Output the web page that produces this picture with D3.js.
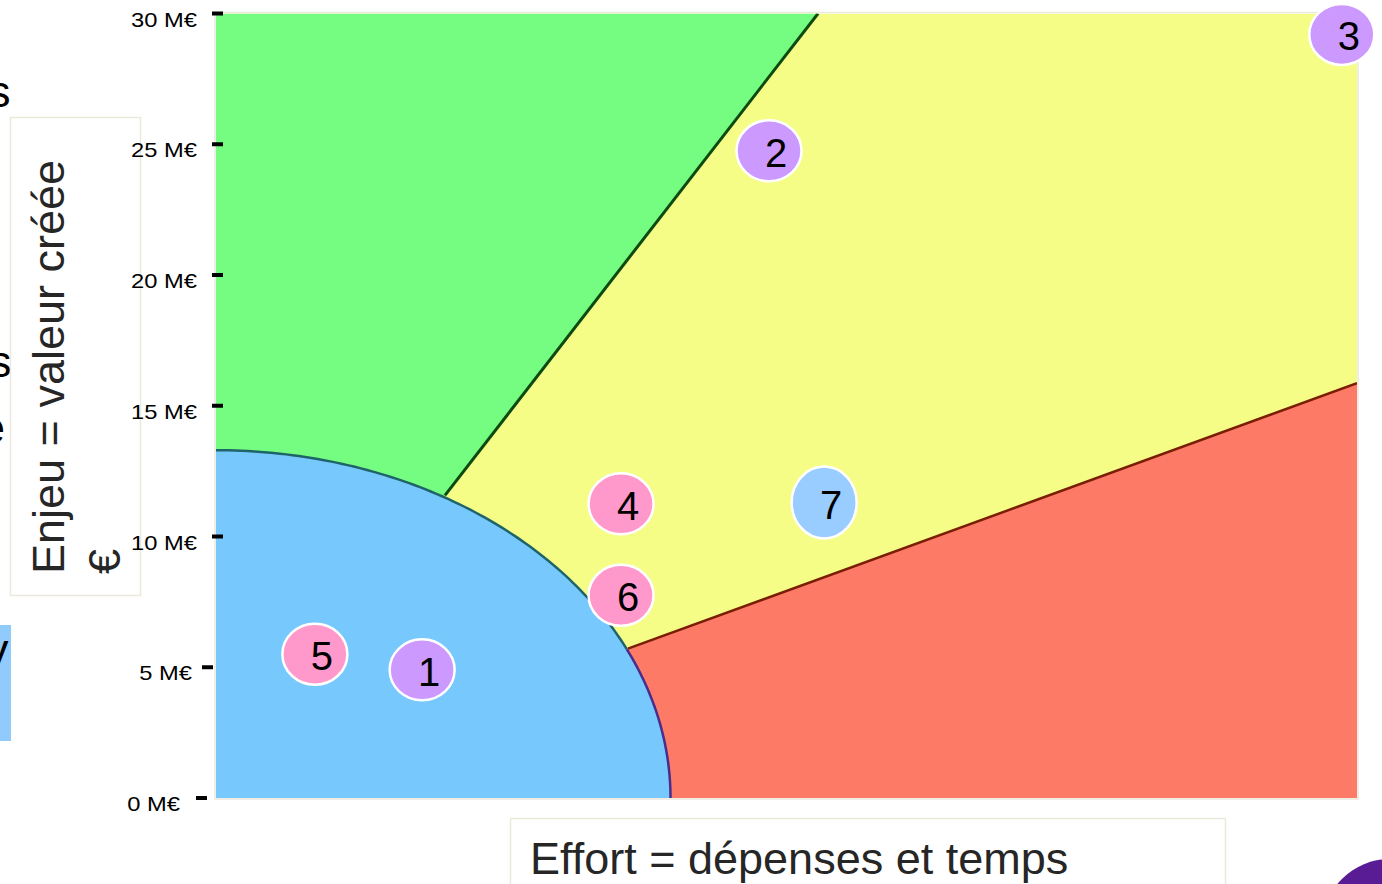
<!DOCTYPE html>
<html lang="fr">
<head>
<meta charset="utf-8">
<script src="https://cdn.jsdelivr.net/npm/d3@7"></script>
<style>
  html, body { margin: 0; padding: 0; background: #ffffff; overflow: hidden; }
  svg { display: block; font-family: "Liberation Sans", Arial, sans-serif; }
</style>
</head>
<body>
<svg id="chart" width="1382" height="884"></svg>
<script>
// Axis ticks (enjeu, in M€)
const yTicks = [0, 5, 10, 15, 20, 25, 30];
const yTickLabels = ["0 M€", "5 M€", "10 M€", "15 M€", "20 M€", "25 M€", "30 M€"];

// Effort axis has no graduation: arbitrary units 0..30
const effortDomain = [0, 30];
const enjeuDomain = [0, 30];

// Zone "quick wins": quarter ellipse anchored at the origin (radii in data units)
const quickWinRadius = { effort: 11.95, enjeu: 13.3 };

// Boundaries between zones: [effort, enjeu] start (on the ellipse) and end (on the frame)
const boundaryStrategic = [[6.02, 11.57], [15.83, 30]];
const boundaryCostly = [[10.83, 5.71], [30, 15.86]];

// Projects
const projectIds = [1, 2, 3, 4, 5, 6, 7];
const projectEffort = [5.42, 14.54, 29.6, 10.65, 2.6, 10.65, 15.99];
const projectEnjeu = [4.9, 24.75, 29.2, 11.25, 5.5, 7.75, 11.3];
const projectGroup = ["A", "A", "A", "B", "B", "B", "C"];

const groupColor = { A: "#cc99ff", B: "#ff99cc", C: "#99ccff" };

const svg = d3.select("#chart");

const x = d3.scaleLinear().domain(effortDomain).range([216, 1357]);
const y = d3.scaleLinear().domain(enjeuDomain).range([798, 13.5]);

// ---------- fragments of the surrounding slide at the left edge ----------
const edge = svg.append("g").attr("fill", "#000").attr("font-size", 45);
edge.append("rect").attr("x", 0).attr("y", 625).attr("width", 11).attr("height", 116).attr("fill", "#90cbfb");
edge.append("text").attr("x", -12).attr("y", 107).text("s");
edge.append("text").attr("x", -11).attr("y", 377).text("s");
edge.append("text").attr("x", -20).attr("y", 443).text("e");
edge.append("text").attr("x", -14).attr("y", 665).text("y");

// ---------- y axis title box (behind the tick labels) ----------
const yTitle = svg.append("g");
yTitle.append("rect").attr("x", 10.5).attr("y", 117.5).attr("width", 130).attr("height", 478)
  .attr("fill", "#fff").attr("stroke", "#ece9dc").attr("stroke-width", 1.5);
const yText = yTitle.append("text")
  .attr("transform", "translate(64,574) rotate(-90)")
  .attr("font-size", 45).attr("fill", "#262626");
yText.append("tspan").attr("x", 0).attr("y", 0).text("Enjeu = valeur créée");
yText.append("tspan").attr("x", 0).attr("y", 56).text("€");

// ---------- plot zones ----------
const plot = svg.append("g");
const x0 = x(effortDomain[0]), x1 = x(effortDomain[1]);
const y0 = y(enjeuDomain[0]), y1 = y(enjeuDomain[1]);

svg.append("defs").append("clipPath").attr("id", "plotClip")
  .append("rect").attr("x", x0).attr("y", y1).attr("width", x1 - x0).attr("height", y0 - y1);

const zones = plot.append("g").attr("clip-path", "url(#plotClip)");

// base zone (yellow)
zones.append("rect")
  .attr("x", x0).attr("y", y1).attr("width", x1 - x0).attr("height", y0 - y1)
  .attr("fill", "#f5fd87");

const line = d3.line().x(d => x(d[0])).y(d => y(d[1]));

// green zone: high value, low effort
zones.append("path")
  .attr("d", line([[0, 30], boundaryStrategic[1], boundaryStrategic[0], [0, 0]]) + "Z")
  .attr("fill", "#74fd80");

// red zone: high effort, low value
zones.append("path")
  .attr("d", line([boundaryCostly[0], boundaryCostly[1], [30, 0], [0, 0]]) + "Z")
  .attr("fill", "#fd7b66");

// blue quarter ellipse
const rx = quickWinRadius.effort, ry = quickWinRadius.enjeu;
const ellipsePt = t => [rx * Math.cos(t), ry * Math.sin(t)];
const arcPts = d3.range(0, 91).map(i => ellipsePt(i / 90 * Math.PI / 2));
zones.append("path")
  .attr("d", line([[0, 0], ...arcPts]) + "Z")
  .attr("fill", "#77c8fd");

// ellipse outline, split at the junction with the red boundary
const tJoin = Math.atan2(boundaryCostly[0][1] / ry, boundaryCostly[0][0] / rx);
const lowArc = d3.range(0, 41).map(i => ellipsePt(i / 40 * tJoin));
const highArc = d3.range(0, 81).map(i => ellipsePt(tJoin + i / 80 * (Math.PI / 2 - tJoin)));
zones.append("path").attr("d", line(lowArc)).attr("fill", "none")
  .attr("stroke", "#4a2c8c").attr("stroke-width", 2.5);
zones.append("path").attr("d", line(highArc)).attr("fill", "none")
  .attr("stroke", "#1e6468").attr("stroke-width", 2.5);

// zone boundaries
zones.append("path").attr("d", line(boundaryStrategic)).attr("fill", "none")
  .attr("stroke", "#0c4a10").attr("stroke-width", 3);
zones.append("path").attr("d", line(boundaryCostly)).attr("fill", "none")
  .attr("stroke", "#7a1e06").attr("stroke-width", 2.5);

// light frame around the plot
plot.append("rect")
  .attr("x", x0 - 1).attr("y", y1 - 1).attr("width", x1 - x0 + 2).attr("height", y0 - y1 + 2)
  .attr("fill", "none").attr("stroke", "#ece9dc").attr("stroke-width", 1.5);

// ---------- y axis ----------
const axis = svg.append("g");
// the two lowest ticks sit slightly further left on the slide
const tickShift = v => (v === 0 ? -16 : v === 5 ? -10 : 0);
const labelShift = v => (v === 0 ? -17 : v === 5 ? -5 : 0);
yTicks.forEach((v, i) => {
  const ty = y(v);
  axis.append("line")
    .attr("x1", 212 + tickShift(v)).attr("x2", 223 + tickShift(v))
    .attr("y1", ty).attr("y2", ty)
    .attr("stroke", "#000").attr("stroke-width", 4);
  axis.append("text")
    .attr("transform", `translate(${197 + labelShift(v)},${ty + 13}) scale(1.13,1)`)
    .attr("text-anchor", "end")
    .attr("font-size", 21)
    .attr("fill", "#000")
    .text(yTickLabels[i]);
});

// x axis title box
const xTitle = svg.append("g");
xTitle.append("rect").attr("x", 510.5).attr("y", 818.5).attr("width", 715).attr("height", 80)
  .attr("fill", "#fff").attr("stroke", "#ece9dc").attr("stroke-width", 1.5);
xTitle.append("text").attr("x", 530).attr("y", 874)
  .attr("font-size", 45).attr("fill", "#262626")
  .text("Effort = dépenses et temps");

// ---------- projects ----------
const projects = projectIds.map((id, i) => ({
  id, effort: projectEffort[i], enjeu: projectEnjeu[i], group: projectGroup[i]
}));

const bubbles = svg.append("g").selectAll("g").data(projects).join("g")
  .attr("transform", d => `translate(${x(d.effort)},${y(d.enjeu)})`);
bubbles.append("ellipse")
  .attr("rx", 32.5)
  .attr("ry", d => d.group === "C" ? 36 : 30.5)
  .attr("fill", d => groupColor[d.group])
  .attr("stroke", "#fff").attr("stroke-width", 2.5);
bubbles.append("text")
  .attr("x", 7).attr("y", 16)
  .attr("text-anchor", "middle")
  .attr("font-size", 40).attr("fill", "#000")
  .text(d => d.id);

// ---------- logo corner ----------
svg.append("circle").attr("cx", 1390).attr("cy", 927).attr("r", 68).attr("fill", "#5a1c94");
</script>
</body>
</html>
